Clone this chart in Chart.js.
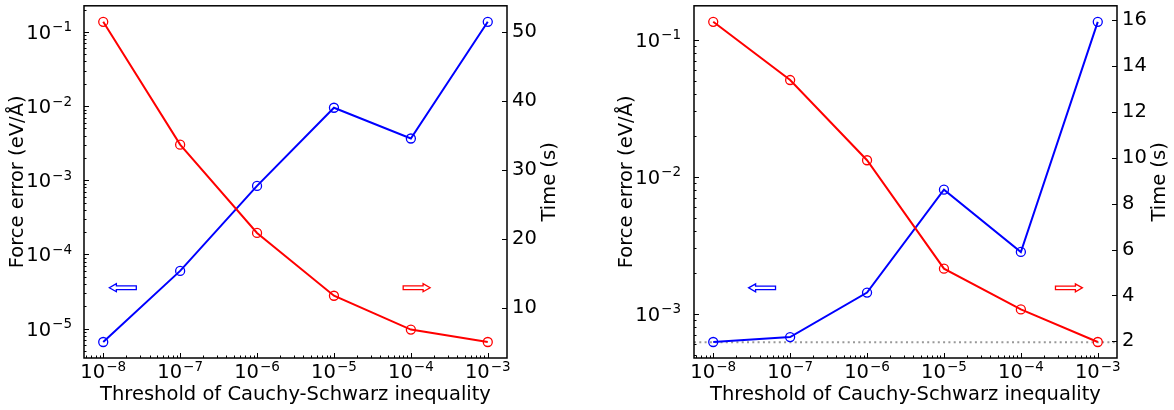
<!DOCTYPE html>
<html>
<head>
<meta charset="utf-8">
<script src="https://cdn.jsdelivr.net/npm/chart.js@4.4.1/dist/chart.umd.min.js"></script>
<style>
  body { margin: 0; background: #fff; }
  .panel { position: absolute; top: 0; width: 587px; height: 410px; }
</style>
</head>
<body>
<div class="panel" style="left:0"><canvas id="leftChart" width="587" height="410"></canvas></div>
<div class="panel" style="left:587px"><canvas id="rightChart" width="587" height="410"></canvas></div>
<script>
const thresholds = [1e-8, 1e-7, 1e-6, 1e-5, 1e-4, 1e-3];
const thresholdTicks = [1e-8, 1e-7, 1e-6, 1e-5, 1e-4, 1e-3];

// left panel
const errorA = [6.6e-6, 6.0e-5, 8.4e-4, 9.5e-3, 3.66e-3, 0.137];
const timeA = [51.5, 33.7, 20.9, 11.8, 6.9, 5.1];
const errorTicksA = [1e-5, 1e-4, 1e-3, 1e-2, 1e-1];
const timeTicksA = [10, 20, 30, 40, 50];

// right panel
const errorB = [6.24e-4, 6.78e-4, 1.43e-3, 8.06e-3, 2.83e-3, 0.135];
const timeB = [15.94, 13.4, 9.9, 5.17, 3.39, 1.97];
const errorTicksB = [1e-3, 1e-2, 1e-1];
const timeTicksB = [2, 4, 6, 8, 10, 12, 14, 16];
const refErrorB = 6.2e-4;

const FONT = { family: 'DejaVu Sans', size: 19.5 };
const SUP_SIZE = 13.5;

function exponent(v) {
    return String(Math.round(Math.log10(v))).replace('-', '\u2212');
}

// matplotlib style 5% margins
function logRange(vals) {
    const lo = Math.log10(Math.min(...vals)), hi = Math.log10(Math.max(...vals));
    const m = (hi - lo) * 0.05;
    return [Math.pow(10, lo - m), Math.pow(10, hi + m)];
}
function linRange(vals) {
    const lo = Math.min(...vals), hi = Math.max(...vals);
    const m = (hi - lo) * 0.05;
    return [lo - m, hi + m];
}

function logTicks(min, max) {
    const out = [];
    for (let e = Math.floor(Math.log10(min)); e <= Math.ceil(Math.log10(max)); e++) {
        for (let k = 1; k < 10; k++) {
            const v = k * Math.pow(10, e);
            if (v >= min * 0.9999 && v <= max * 1.0001) out.push([v, k === 1]);
        }
    }
    return out;
}

// "10" with a raised exponent, anchored at (x, baseline)
function powLabel(ctx, v, x, base, align) {
    const sup = exponent(v);
    ctx.font = FONT.size + 'px ' + FONT.family;
    const w1 = ctx.measureText('10').width;
    ctx.font = SUP_SIZE + 'px ' + FONT.family;
    const w2 = ctx.measureText(sup).width;
    const w = w1 + w2 + 1;
    const x0 = align === 'center' ? x - w / 2 : x - w;
    ctx.textAlign = 'left';
    ctx.textBaseline = 'alphabetic';
    ctx.font = FONT.size + 'px ' + FONT.family;
    ctx.fillText('10', x0, base);
    ctx.font = SUP_SIZE + 'px ' + FONT.family;
    ctx.fillText(sup, x0 + w1 + 1, base - 7.5);
}

function drawArrow(ctx, xs, xe, y, color) {
    const d = Math.sign(xe - xs), hl = 7, bh = 1.8, hh = 4;
    const xb = xe - d * hl;
    ctx.beginPath();
    ctx.moveTo(xs, y - bh);
    ctx.lineTo(xb, y - bh);
    ctx.lineTo(xb, y - hh);
    ctx.lineTo(xe, y);
    ctx.lineTo(xb, y + hh);
    ctx.lineTo(xb, y + bh);
    ctx.lineTo(xs, y + bh);
    ctx.closePath();
    ctx.fillStyle = '#fff';
    ctx.fill();
    ctx.strokeStyle = color;
    ctx.lineWidth = 1.3;
    ctx.stroke();
}

const frame = {
    id: 'frame',
    beforeDatasetsDraw(chart, args, opts) {
        if (opts.refLine == null) return;
        const ctx = chart.ctx, a = chart.chartArea;
        const py = chart.scales.yErr.getPixelForValue(opts.refLine);
        ctx.save();
        ctx.strokeStyle = '#999';
        ctx.lineWidth = 2;
        ctx.setLineDash([2, 3.3]);
        ctx.beginPath();
        ctx.moveTo(a.left, py);
        ctx.lineTo(a.right, py);
        ctx.stroke();
        ctx.restore();
    },
    afterDatasetsDraw(chart, args, opts) {
        const ctx = chart.ctx, a = chart.chartArea;
        const x = chart.scales.x, yl = chart.scales.yErr, yr = chart.scales.yTime;
        ctx.save();
        ctx.strokeStyle = '#000';
        ctx.lineWidth = 1;
        ctx.beginPath();
        logTicks(x.min, x.max).forEach(([v, major]) => {
            const px = Math.round(x.getPixelForValue(v)) + 0.5;
            ctx.moveTo(px, a.bottom);
            ctx.lineTo(px, a.bottom - (major ? 5 : 2.5));
        });
        logTicks(yl.min, yl.max).forEach(([v, major]) => {
            const py = Math.round(yl.getPixelForValue(v)) + 0.5;
            ctx.moveTo(a.left, py);
            ctx.lineTo(a.left + (major ? 5 : 2.5), py);
        });
        yr.ticks.forEach(t => {
            const py = Math.round(yr.getPixelForValue(t.value)) + 0.5;
            ctx.moveTo(a.right, py);
            ctx.lineTo(a.right - 5, py);
        });
        ctx.stroke();

        (opts.arrows || []).forEach(ar => {
            drawArrow(ctx, x.getPixelForValue(ar.from), x.getPixelForValue(ar.to),
                yl.getPixelForValue(ar.y), ar.color);
        });

        ctx.strokeStyle = '#000';
        ctx.lineWidth = 1.5;
        ctx.strokeRect(a.left, a.top, a.width, a.height);

        // power-of-ten tick labels
        ctx.fillStyle = '#000';
        x.ticks.forEach(t => powLabel(ctx, t.value, x.getPixelForValue(t.value), a.bottom + 20, 'center'));
        yl.ticks.forEach(t => powLabel(ctx, t.value, a.left - opts.leftLabelGap, yl.getPixelForValue(t.value) + 7, 'right'));

        // right axis title reads bottom to top, like matplotlib
        ctx.translate(a.right + opts.rightTitleOffset, (a.top + a.bottom) / 2);
        ctx.rotate(-Math.PI / 2);
        ctx.font = FONT.size + 'px ' + FONT.family;
        ctx.textAlign = 'center';
        ctx.textBaseline = 'middle';
        ctx.fillText(opts.rightTitle, 0, 0);
        ctx.restore();
    }
};

function noPad(s) {
    s.paddingTop = 0; s.paddingBottom = 0; s.paddingLeft = 0; s.paddingRight = 0;
}

function makeChart(id, errors, times, errorTicks, timeTicks, layout) {
    const xr = logRange(thresholds);
    const er = logRange(errors);
    const tr = linRange(times);
    return new Chart(document.getElementById(id), {
        type: 'line',
        data: {
            datasets: [{
                label: 'Time',
                data: thresholds.map((t, i) => ({ x: t, y: times[i] })),
                yAxisID: 'yTime',
                borderColor: '#ff0000',
                borderWidth: 2,
                pointRadius: 4.5,
                pointBorderWidth: 1.3,
                pointBackgroundColor: 'rgba(0,0,0,0)',
                pointBorderColor: '#ff0000',
                tension: 0
            }, {
                label: 'Force error',
                data: thresholds.map((t, i) => ({ x: t, y: errors[i] })),
                yAxisID: 'yErr',
                borderColor: '#0000ff',
                borderWidth: 2,
                pointRadius: 4.5,
                pointBorderWidth: 1.3,
                pointBackgroundColor: 'rgba(0,0,0,0)',
                pointBorderColor: '#0000ff',
                tension: 0
            }]
        },
        options: {
            responsive: false,
            animation: false,
            layout: { padding: { top: 2, right: 0, left: 0, bottom: 0 } },
            scales: {
                x: {
                    type: 'logarithmic',
                    min: xr[0], max: xr[1],
                    afterBuildTicks: s => { s.ticks = thresholdTicks.map(v => ({ value: v })); },
                    afterFit: s => { s.height = 52; noPad(s); },
                    ticks: { display: false },
                    grid: { display: false, drawTicks: false },
                    border: { display: false },
                    title: { display: true, text: 'Threshold of Cauchy-Schwarz inequality', color: '#000', font: FONT, padding: { top: 0, bottom: 3 } }
                },
                yErr: {
                    type: 'logarithmic',
                    position: 'left',
                    min: er[0], max: er[1],
                    afterBuildTicks: s => { s.ticks = errorTicks.map(v => ({ value: v })); },
                    afterFit: s => { s.width = layout.leftWidth; noPad(s); },
                    ticks: { display: false },
                    grid: { display: false, drawTicks: false },
                    border: { display: false },
                    title: { display: true, text: 'Force error (eV/\u00C5)', color: '#000', font: FONT, padding: { top: layout.leftTitlePad, bottom: 0 } }
                },
                yTime: {
                    type: 'linear',
                    position: 'right',
                    min: tr[0], max: tr[1],
                    afterBuildTicks: s => { s.ticks = timeTicks.map(v => ({ value: v })); },
                    afterFit: s => { s.width = layout.rightWidth; noPad(s); },
                    ticks: { autoSkip: false, padding: 5, color: '#000', font: FONT },
                    grid: { display: false, drawTicks: false },
                    border: { display: false }
                }
            },
            plugins: {
                legend: { display: false },
                tooltip: { enabled: false },
                frame: {
                    arrows: layout.arrows,
                    refLine: layout.refLine,
                    leftLabelGap: layout.leftPad,
                    rightTitle: 'Time (s)',
                    rightTitleOffset: 43
                }
            }
        },
        plugins: [frame]
    });
}

makeChart('leftChart', errorA, timeA, errorTicksA, timeTicksA, {
    leftWidth: 84, rightWidth: 80, leftPad: 12, leftTitlePad: 6,
    refLine: null,
    arrows: [
        { from: Math.pow(10, -7.57), to: Math.pow(10, -7.92), y: Math.pow(10, -4.449), color: '#0000ff' },
        { from: Math.pow(10, -4.10), to: Math.pow(10, -3.75), y: Math.pow(10, -4.449), color: '#ff0000' }
    ]
});

makeChart('rightChart', errorB, timeB, errorTicksB, timeTicksB, {
    leftWidth: 107, rightWidth: 57, leftPad: 13, leftTitlePad: 28,
    refLine: refErrorB,
    arrows: [
        { from: Math.pow(10, -7.19), to: Math.pow(10, -7.54), y: Math.pow(10, -2.81), color: '#0000ff' },
        { from: Math.pow(10, -3.55), to: Math.pow(10, -3.20), y: Math.pow(10, -2.81), color: '#ff0000' }
    ]
});
</script>
</body>
</html>
